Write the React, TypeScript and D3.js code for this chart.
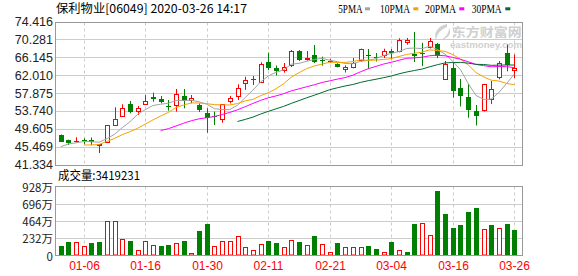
import React from 'react';
import * as d3 from 'd3';

const title = '保利物业[06049] 2020-03-26 14:17';
const volumeTitle = '成交量:3419231';

const dates = ['12-31','01-02','01-03','01-06','01-07','01-08','01-09','01-10','01-13','01-14','01-15','01-16','01-17','01-20','01-21','01-22','01-23','01-24','01-29','01-30','01-31','02-03','02-04','02-05','02-06','02-07','02-10','02-11','02-12','02-13','02-14','02-17','02-18','02-19','02-20','02-21','02-24','02-25','02-26','02-27','02-28','03-02','03-03','03-04','03-05','03-06','03-09','03-10','03-11','03-12','03-13','03-16','03-17','03-18','03-19','03-20','03-23','03-24','03-25','03-26'];

const opens = [48.27,47.12,46.59,47.15,47.10,45.80,46.49,50.43,52.51,55.38,53.67,55.21,57.14,56.60,55.05,55.05,57.30,56.14,55.21,53.30,52.74,51.74,55.84,57.14,60.00,61.00,60.30,65.16,63.70,63.15,64.24,67.64,65.63,66.78,65.74,65.16,64.70,63.31,63.84,65.28,66.78,66.32,66.55,67.78,67.48,69.49,67.01,67.13,68.40,69.25,61.00,63.78,59.15,57.07,53.83,53.83,56.37,61.46,67.31,63.15];
const highs = [48.40,47.20,47.74,47.50,47.70,46.20,50.59,54.68,55.37,56.14,55.00,57.53,58.06,57.30,56.37,58.92,58.92,57.53,55.60,54.45,53.67,55.45,57.30,60.00,61.76,61.93,65.10,67.31,64.35,64.93,67.94,67.94,67.71,69.09,66.40,65.92,64.86,64.40,66.09,68.25,68.17,67.25,68.24,68.17,70.65,70.72,72.10,69.60,70.72,69.56,65.40,64.93,61.23,60.07,55.21,60.10,60.77,65.40,69.21,66.90];
const lows = [46.65,45.96,46.50,46.20,45.96,44.10,46.49,50.43,52.51,53.30,52.90,55.21,55.98,55.60,53.90,53.67,54.45,55.60,53.60,48.80,50.59,51.12,55.60,56.37,58.70,59.84,60.30,63.31,62.04,62.69,64.00,65.40,65.46,64.93,64.30,65.00,63.90,62.73,63.70,65.20,63.54,65.28,66.09,65.80,67.40,69.17,65.16,64.20,68.30,66.09,61.00,56.90,54.87,52.27,50.47,53.70,55.45,61.16,63.00,61.46];
const closes = [46.72,46.49,46.80,46.90,46.70,46.10,50.59,51.91,54.45,53.67,54.59,56.14,56.67,55.84,54.91,57.69,56.21,56.90,54.06,52.14,52.44,55.38,56.76,59.08,61.00,61.15,64.70,63.78,63.15,63.94,67.71,65.69,66.16,65.20,65.35,65.45,64.00,64.10,64.86,68.17,66.55,66.09,67.64,67.31,70.25,70.18,66.62,66.90,70.02,66.55,64.70,58.45,57.30,54.06,52.74,60.00,58.85,64.93,64.40,63.70];
// volume in 万 shares
const volumes = [127,177,177,122,163,177,471,471,226,190,81,199,136,122,149,172,190,36,326,421,122,199,190,267,109,81,158,190,163,111,213,177,136,258,158,50,163,109,109,109,127,86,54,177,81,54,421,435,272,869,557,371,407,584,638,362,407,367,421,342];
// closes of the sessions before the first visible one (needed for the moving averages)
const priorCloses = [46.70,45.00,43.36,45.39,45.45,46.90];

const priceTicks = [41.334,45.469,49.605,53.740,57.875,62.010,66.145,70.281,74.416];
const volumeTicks = [0,232,464,696,928];
const volumeTickLabels = ['0','232万','464万','696万','928万'];
const dateTicks = ['01-06','01-16','01-30','02-11','02-21','03-04','03-16','03-26'];

const maPeriods = [5,10,20,30];
const maNames = ['5PMA','10PMA','20PMA','30PMA'];
const maColors = ['#a3a3a3','#f5a200','#ff00ff','#006a30'];

const RED = '#ff0000';
const GREEN = '#008000';

export default function App() {
  const L = 55.5, R = 522.5, T1 = 22.5, B1 = 165.5, T2 = 186.5, B2 = 255.5;
  const x = d3.scaleLinear().domain([0, dates.length - 1]).range([60.7, 514.3]);
  const y = d3.scaleLinear().domain([priceTicks[0], priceTicks[priceTicks.length - 1]]).range([165, 22]);
  const yv = d3.scaleLinear().domain([0, volumeTicks[volumeTicks.length - 1]]).range([255.5, 187]);

  const all = priorCloses.concat(closes);
  const off = priorCloses.length;
  const maSeries = maPeriods.map(p =>
    dates.map((_, i) => {
      const k = i + off;
      if (k < p - 1) return null;
      return d3.mean(all.slice(k - p + 1, k + 1)) as number;
    })
  );
  const line = d3.line<number | null>()
    .defined(d => d != null)
    .x((_, i) => x(i))
    .y(d => y(d as number));

  const sans = '"Liberation Sans", Arial, sans-serif';
  const cjk = '"Noto Sans CJK SC", "Liberation Sans", sans-serif';
  const serif = '"Liberation Serif", serif';

  const legendX = [338.3, 380, 425, 471.7];
  const legendW = [24.4, 30, 31, 30];
  const markerX = [365, 413.3, 459.3, 505.3];

  return (
    <svg width={578} height={276} style={{ position: 'absolute', left: 0, top: 0, background: '#fff' }}>
      <rect x={0} y={0} width={578} height={276} fill="#fff" />
      {/* title */}
      <text x={56} y={12.5} fontFamily={cjk} fontSize={12} fill="#000" textLength={191} lengthAdjust="spacingAndGlyphs">{title}</text>
      {/* legend */}
      {maNames.map((n, k) => (
        <g key={n}>
          <text x={legendX[k]} y={12.5} fontFamily={serif} fontSize={12} fill="#000" textLength={legendW[k]} lengthAdjust="spacingAndGlyphs">{n}</text>
          <rect x={markerX[k]} y={7.3} width={5} height={3} fill={maColors[k]} />
        </g>
      ))}

      {/* watermark */}
      <g fill="#d0d0d0">
        <path d="M447 24 C438 26 433 33 436 40 C437 34 441 29 447 27 Z M441 40 C446 37 449 33 449 28 C452 33 449 38 441 40 Z" />
        <text x={451.7} y={36.5} fontFamily={cjk} fontSize={12.5} fontWeight="bold" textLength={70} lengthAdjust="spacingAndGlyphs">东方财富网</text>
        <text x={450} y={47.5} fontFamily={sans} fontSize={8.5} fontWeight="bold" textLength={72} lengthAdjust="spacingAndGlyphs">eastmoney.com</text>
      </g>

      {/* price grid */}
      {priceTicks.map((t, k) => {
        const yy = Math.floor(y(t)) + 0.5;
        return (
          <g key={'pg' + k}>
            {k > 0 && k < priceTicks.length - 1 && (
              <line x1={L} x2={R} y1={yy} y2={yy} stroke="#cccccc" strokeWidth={1} />
            )}
            <text x={53} y={y(t)} textAnchor="end" dominantBaseline="central" fontFamily={sans} fontSize={12.5} fill="#222">{t.toFixed(3)}</text>
          </g>
        );
      })}
      {/* volume grid */}
      {volumeTicks.map((t, k) => {
        const yy = Math.floor(yv(t)) + 0.5;
        return (
          <g key={'vg' + k}>
            {k > 0 && k < volumeTicks.length - 1 && (
              <line x1={L} x2={R} y1={yy} y2={yy} stroke="#cccccc" strokeWidth={1} />
            )}
            <text x={53} y={yv(t)} textAnchor="end" dominantBaseline="central" fontFamily={cjk} fontSize={11.5} fill="#222">{volumeTickLabels[k]}</text>
          </g>
        );
      })}
      {/* vertical dashed lines and date labels */}
      {dateTicks.map(d => {
        const i = dates.indexOf(d);
        const xx = Math.round(x(i)) + 0.5;
        return (
          <g key={'dt' + d}>
            <line x1={xx} x2={xx} y1={T1} y2={B1} stroke="#cccccc" strokeDasharray="3,3" />
            <line x1={xx} x2={xx} y1={T2} y2={B2} stroke="#cccccc" strokeDasharray="3,3" />
            <text x={xx} y={270} textAnchor="middle" fontFamily={sans} fontSize={12} fill={RED}>{d}</text>
          </g>
        );
      })}

      {/* candles */}
      {dates.map((d, i) => {
        const cx = Math.round(x(i));
        const up = closes[i] >= opens[i];
        const col = up ? RED : GREEN;
        const top = Math.round(y(Math.max(opens[i], closes[i])));
        const bot = Math.round(y(Math.min(opens[i], closes[i])));
        const h = Math.max(1, bot - top);
        return (
          <g key={'c' + i}>
            <line x1={cx + 0.5} x2={cx + 0.5} y1={y(highs[i])} y2={y(lows[i])} stroke={col} strokeWidth={1} />
            {up ? (
              h > 1
                ? <rect x={cx - 1.5} y={top + 0.5} width={4} height={h - 1} fill="#fff" stroke={col} strokeWidth={1} />
                : <rect x={cx - 2} y={top} width={5} height={1} fill={col} />
            ) : (
              <rect x={cx - 2} y={top} width={5} height={h} fill={col} />
            )}
          </g>
        );
      })}

      {/* moving averages */}
      {maSeries.map((s, k) => (
        <path key={'ma' + k} d={line(s) || ''} fill="none" stroke={maColors[k]} strokeWidth={1} />
      ))}

      {/* volume bars */}
      {dates.map((d, i) => {
        const cx = Math.round(x(i));
        const prev = i === 0 ? priorCloses[priorCloses.length - 1] : closes[i - 1];
        const up = closes[i] >= prev;
        const top = Math.round(yv(volumes[i]));
        const h = 255 - top;
        return up
          ? <rect key={'v' + i} x={cx - 1.5} y={top + 0.5} width={4} height={Math.max(0, h - 0.5)} fill="#fff" stroke={RED} strokeWidth={1} />
          : <rect key={'v' + i} x={cx - 2} y={top} width={5} height={h} fill={GREEN} />;
      })}

      {/* frames */}
      <rect x={L} y={T1} width={R - L} height={B1 - T1} fill="none" stroke="#999" strokeWidth={1} />
      <rect x={L} y={T2} width={R - L} height={B2 - T2} fill="none" stroke="#999" strokeWidth={1} />

      <text x={58} y={180} fontFamily={cjk} fontSize={12} fill="#000" textLength={82} lengthAdjust="spacingAndGlyphs">{volumeTitle}</text>
    </svg>
  );
}
